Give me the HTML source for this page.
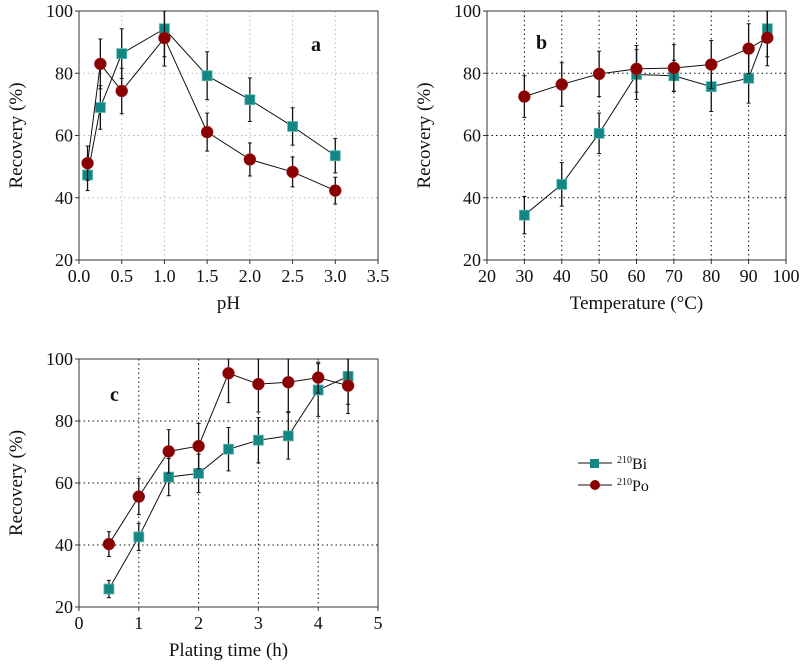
<!DOCTYPE html><html><head><meta charset="utf-8"><style>body{margin:0;background:#fff}svg{display:block}text{font-family:"Liberation Serif","Times New Roman",serif;fill:#111}</style></head><body>
<svg id="s" width="802" height="671" xmlns="http://www.w3.org/2000/svg"></svg>
<script>
const s=document.getElementById('s');let h='';
function panel(o){
 const {L,R,T,B,x0,x1,y0,y1}=o;
 const X=v=>L+(v-x0)/(x1-x0)*(R-L), Y=v=>B-(v-y0)/(y1-y0)*(B-T);
 const gc=o.grid;
 o.vg.forEach(v=>h+=`<line x1="${X(v)}" y1="${T}" x2="${X(v)}" y2="${B}" stroke="${gc}" stroke-dasharray="1.5,3"/>`);
 [40,60,80].forEach(v=>h+=`<line x1="${L}" y1="${Y(v)}" x2="${R}" y2="${Y(v)}" stroke="${gc}" stroke-dasharray="1.5,3"/>`);
 h+=`<rect x="${L}" y="${T}" width="${R-L}" height="${B-T}" fill="none" stroke="#333" stroke-width="1"/>`;
 [20,40,60,80,100].forEach(v=>{h+=`<line x1="${L-4}" y1="${Y(v)}" x2="${L}" y2="${Y(v)}" stroke="#333"/><text x="${L-6}" y="${Y(v)+6}" font-size="18" text-anchor="end">${v}</text>`});
 o.xt.forEach(v=>{h+=`<line x1="${X(v)}" y1="${B}" x2="${X(v)}" y2="${B+4}" stroke="#333"/><text x="${X(v)}" y="${B+22}" font-size="18" text-anchor="middle">${o.fmt(v)}</text>`});
 h+=`<text x="${(L+R)/2}" y="${B+49}" font-size="19" text-anchor="middle">${o.xl}</text>`;
 h+=`<text transform="translate(${L-57},${(T+B)/2}) rotate(-90)" font-size="19" text-anchor="middle">Recovery (%)</text>`;
 h+=`<text x="${o.lx}" y="${o.ly}" font-size="20" font-weight="bold">${o.let}</text>`;
 const ser=(d,sq)=>{
  let p=d.map(a=>X(a[0])+','+Y(a[1])).join(' ');
  h+=`<polyline points="${p}" fill="none" stroke="#111" stroke-width="1"/>`;
  d.forEach(a=>{const x=X(a[0]),e=a[2]||7,t=Math.max(Y(a[1]+e),T),b=Y(a[1]-e);
   h+=`<line x1="${x}" y1="${t}" x2="${x}" y2="${b}" stroke="#111" stroke-width="1.3"/><line x1="${x-2}" y1="${t}" x2="${x+2}" y2="${t}" stroke="#111"/><line x1="${x-2}" y1="${b}" x2="${x+2}" y2="${b}" stroke="#111"/>`;});
  d.forEach(a=>{const x=X(a[0]),y=Y(a[1]);
   h+=sq?`<rect x="${x-5}" y="${y-5}" width="10" height="10" fill="#128784" stroke="#5fb5b0" stroke-width="0.8"/>`:`<circle cx="${x}" cy="${y}" r="6" fill="#8b0000" stroke="#a03030" stroke-width="0.5"/>`;});
 };
 ser(o.bi,true);ser(o.po,false);
}
panel({L:79,R:378,T:11,B:260,x0:0,x1:3.5,y0:20,y1:100,grid:"#bbb",vg:[0.5,1,1.5,2,2.5,3],xt:[0,0.5,1,1.5,2,2.5,3,3.5],fmt:v=>v.toFixed(1),xl:"pH",let:"a",lx:311,ly:51,
 bi:[[0.1,47.3,5],[0.25,69,7],[0.5,86.3,8],[1,94.3,9],[1.5,79.2,7.7],[2,71.5,7],[2.5,62.9,6],[3,53.5,5.5]],
 po:[[0.1,51.1,5.5],[0.25,83,8],[0.5,74.3,7.3],[1,91.3,9],[1.5,61.1,6.1],[2,52.3,5.3],[2.5,48.3,4.8],[3,42.3,4.3]]});
panel({L:487,R:786,T:11,B:260,x0:20,x1:100,y0:20,y1:100,grid:"#111",vg:[30,40,50,60,70,80,90],xt:[20,30,40,50,60,70,80,90,100],fmt:v=>v,xl:"Temperature (°C)",let:"b",lx:536,ly:49,
 bi:[[30,34.4,6],[40,44.3,7],[50,60.7,6.5],[60,79.6,8],[70,79.2,5],[80,75.7,8],[90,78.4,8],[95,94.3,9]],
 po:[[30,72.5,6.7],[40,76.4,7],[50,79.8,7.3],[60,81.4,7.5],[70,81.7,7.5],[80,82.8,7.7],[90,87.9,8],[95,91.4,9]]});
panel({L:79,R:378,T:359,B:607,x0:0,x1:5,y0:20,y1:100,grid:"#111",vg:[1,2,3,4],xt:[0,1,2,3,4,5],fmt:v=>v,xl:"Plating time (h)",let:"c",lx:110,ly:401,
 bi:[[0.5,25.8,2.8],[1,42.6,4.4],[1.5,61.9,6],[2,63.1,6.2],[2.5,70.9,7],[3,73.8,7.3],[3.5,75.2,7.5],[4,90,8.5],[4.5,94.4,9]],
 po:[[0.5,40.3,4],[1,55.6,5.8],[1.5,70.2,7],[2,71.9,7.3],[2.5,95.4,9.5],[3,91.9,9],[3.5,92.5,9.5],[4,94,5],[4.5,91.4,9]]});
h+=`<line x1="578" y1="463" x2="612" y2="463" stroke="#111"/><rect x="590" y="459" width="9" height="9" fill="#128784"/><text x="617" y="469" font-size="16"><tspan font-size="10" dy="-6">210</tspan><tspan dy="6">Bi</tspan></text>`;
h+=`<line x1="578" y1="485" x2="612" y2="485" stroke="#111"/><circle cx="595" cy="485" r="5" fill="#8b0000"/><text x="617" y="491" font-size="16"><tspan font-size="10" dy="-6">210</tspan><tspan dy="6">Po</tspan></text>`;
s.innerHTML=h;
</script></body></html>
